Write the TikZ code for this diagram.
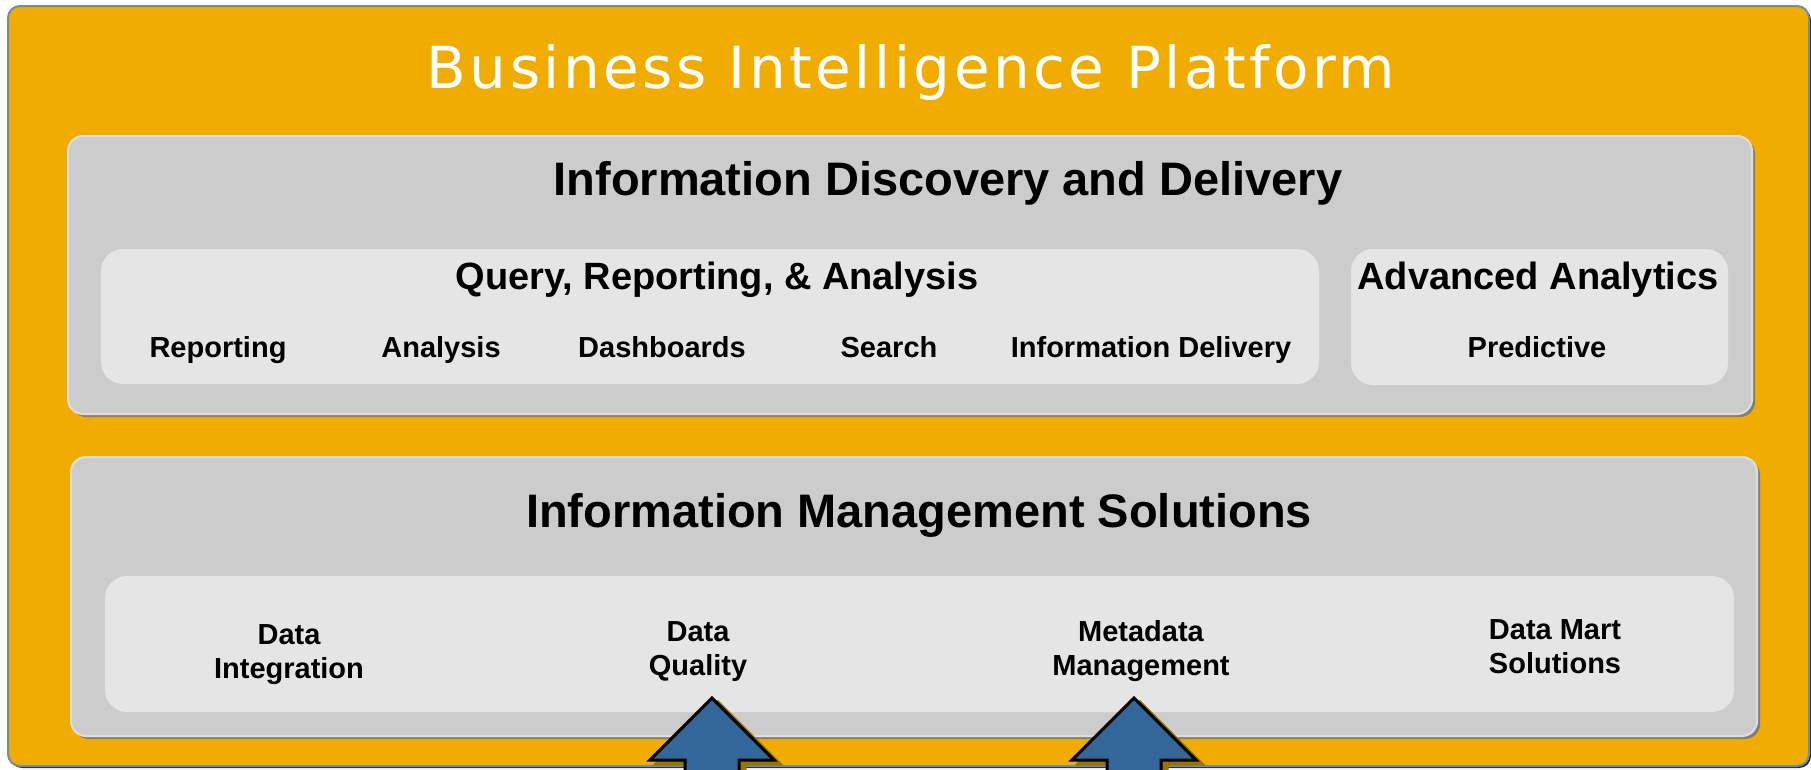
\documentclass[tikz,border=0pt]{standalone}
\usepackage{fontspec}
\setmainfont{Liberation Sans}
\newfontfamily\titlefont[LetterSpace=6]{DejaVu Sans}
\usetikzlibrary{positioning}
\definecolor{biorange}{HTML}{F0AC00}
\definecolor{biborder}{HTML}{6E8CAB}
\definecolor{bishadow}{HTML}{14304A}
\definecolor{panelgray}{HTML}{CCCCCC}
\definecolor{panellight}{HTML}{DEDEDE}
\definecolor{panelshade}{HTML}{7F7F7F}
\definecolor{boxgray}{HTML}{E5E5E5}
\definecolor{arrowblue}{HTML}{336699}
\definecolor{arrowshade}{HTML}{9A7400}
\tikzset{x=1pt, y=-1pt, every node/.style={inner sep=0pt, outer sep=0pt},
	platform/.style={fill=biorange, draw=biborder, line width=2pt, rounded corners=12pt, anchor=north west,
		preaction={fill=bishadow, transform canvas={shift={(2pt,-2pt)}}}},
	panel/.style={fill=panelgray, draw=panellight, line width=2pt, rounded corners=15pt, anchor=north west,
		preaction={fill=panelshade, transform canvas={shift={(3pt,-3pt)}}}},
	subbox/.style={fill=boxgray, rounded corners=22pt, anchor=north west},
	heading/.style={font=\bfseries\fontsize{47}{56}\selectfont, anchor=base},
	subheading/.style={font=\bfseries\fontsize{38}{45}\selectfont, anchor=base},
	item/.style={font=\bfseries\fontsize{29}{34}\selectfont, anchor=base, align=center},
	bigarrow/.style={fill=arrowblue, draw=black, line width=3pt, line join=miter,
		preaction={fill=arrowshade, draw=arrowshade, line width=3pt, transform canvas={shift={(6pt,-4pt)}}}}}

\begin{document}
\begin{tikzpicture}
	\useasboundingbox (0,0) rectangle (1811,769);
	% outer platform
	\node[platform, minimum width=1801pt, minimum height=760pt] (Platform) at (8,6) {};
	\node[font=\titlefont\fontsize{58}{66}\selectfont, text=white, anchor=base] (PlatformTitle) at (911,88) {Business Intelligence Platform};
	% discovery and delivery
	\node[panel, minimum width=1684pt, minimum height=278pt] (Discovery) at (68,136) {};
	\node[heading] (DiscoveryTitle) at (948,195) {Information Discovery and Delivery};
	\node[subbox, minimum width=1218pt, minimum height=135pt] (Query) at (101,249) {};
	\node[subbox, minimum width=377pt, minimum height=136pt] (Advanced) at (1351,249) {};
	\node[subheading] (QueryTitle) at (717,289) {Query, Reporting, \& Analysis};
	\node[subheading] (AdvancedTitle) at (1538,289) {Advanced Analytics};
	\node[item] (Reporting) at (218,357) {Reporting};
	\node[item] (Analysis) at (441,357) {Analysis};
	\node[item] (Dashboards) at (662,357) {Dashboards};
	\node[item] (Search) at (889,357) {Search};
	\node[item] (InfoDelivery) at (1151,357) {Information Delivery};
	\node[item] (Predictive) at (1537,357) {Predictive};
	% management solutions
	\node[panel, minimum width=1686pt, minimum height=279pt] (Management) at (71,457) {};
	\node[heading] (ManagementTitle) at (919,527) {Information Management Solutions};
	\node[subbox, minimum width=1629pt, minimum height=136pt] (Solutions) at (105,576) {};
	\node[item] (Integration) at (289,678) {Data\\Integration};
	\node[item] (Quality) at (698,675) {Data\\Quality};
	\node[item] (Metadata) at (1141,675) {Metadata\\Management};
	\node[item] (DataMart) at (1555,673) {Data Mart\\Solutions};
	% arrows up into the solutions
	\coordinate (QualityTip) at (712,698);
	\coordinate (MetadataTip) at (1134,698);
	\foreach \tip in {QualityTip, MetadataTip}
		\draw[bigarrow] (\tip) -- ++(62,62) -- ++(-35,0) -- ++(0,30) -- ++(-54,0) -- ++(0,-30) -- ++(-35,0) -- cycle;
\end{tikzpicture}
\end{document}
